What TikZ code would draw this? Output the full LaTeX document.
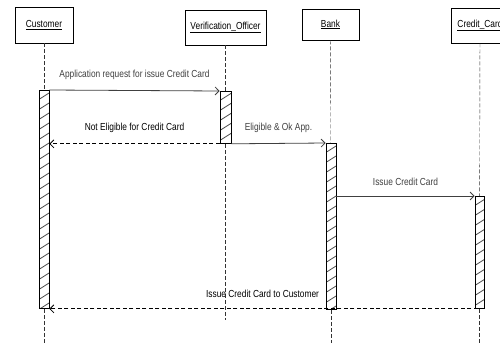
\documentclass[tikz,border=0pt]{standalone}
\usepackage{fontspec}
\setmainfont{Liberation Sans}[FakeStretch=0.82]
\usepackage{tikz}
\usetikzlibrary{arrows.meta}

\begin{document}
\begin{tikzpicture}[x=1pt,y=-1pt,
        font=\fontsize{10.2}{12}\selectfont,
        obj/.style={draw,thick,inner sep=0pt,fill=white},
        actbar/.style={draw,thick,inner sep=0pt,minimum width=10pt,anchor=north,
            path picture={
                \foreach \k in {0,...,24}
                    \draw[black!70,thick] ([yshift=-\k*10pt-9pt]path picture bounding box.north west) -- ++(11pt,7pt);
            }},
        life/.style={dashed,dash pattern=on 4pt off 2pt,black!80},
        msg/.style={-{Straight Barb[length=4pt,width=8pt]},black!75,thick},
        reply/.style={msg,black,dash pattern=on 4pt off 2.5pt}]
        \clip (0,0) rectangle (500,343);
        \fill[white] (0,0) rectangle (500,343);

        % objects
        \node[obj,minimum width=58pt,minimum height=36pt] (cust) at (44,25)    {\underline{Customer}};
        \node[obj,minimum width=81pt,minimum height=35pt] (ver)  at (225.5,27.5) {\underline{Verification\_Officer}};
        \node[obj,minimum width=57pt,minimum height=31pt] (bank) at (330.5,24.5) {\underline{Bank}};
        \node[obj,minimum width=58pt,minimum height=35pt] (card) at (480,25.5)  {\underline{Credit\_Card}};

        % activations
        \node[actbar,minimum height=218pt] (cb)  at (44,90)     {};
        \node[actbar,minimum height=52pt,minimum width=11pt] (vb) at (225.5,91) {};
        \node[actbar,minimum height=166pt] (bb)  at (331,143)   {};
        \node[actbar,minimum height=112pt,minimum width=9pt] (ccb) at (479.5,196) {};

        \coordinate (custend) at (44,343);
        \coordinate (verend)  at (225.5,320);
        \coordinate (bankend) at (331,343);
        \coordinate (cardend) at (479.5,343);

        % lifelines
        \draw[life] (cust) -- (cb);
        \draw[life] (cb) -- (custend);
        \draw[life] (ver) -- (vb);
        \draw[life] (vb) -- (verend);
        \draw[life] (bank) -- (bb);
        \draw[life] (bb) -- (bankend);
        \draw[life] (card) -- (ccb);
        \draw[life] (ccb) -- (cardend);

        % messages
        \path
             (cb.north east) edge [msg] node [above=7pt] {Application request for issue Credit Card} (vb.north west)
             (vb.south west) edge [reply] node [above=7pt] {Not Eligible for Credit Card} (cb.east |- vb.south)
             (vb.south east) edge [msg] node [above=7pt] {Eligible \& Ok App.} (bb.north west)
             (bb.east |- ccb.north) edge [msg] node [above=7pt] {Issue Credit Card} (ccb.north west)
             (ccb.south east) edge [reply] node [pos=0.51,above=7pt] {Issue Credit Card to Customer} (cb.south east)
        ;
\end{tikzpicture}
\end{document}
